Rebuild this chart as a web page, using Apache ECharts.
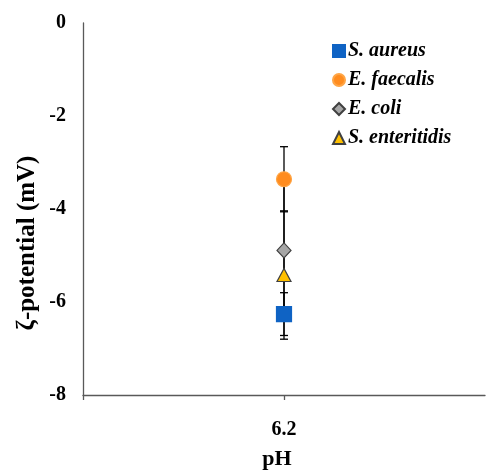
<!DOCTYPE html>
<html>
<head>
<meta charset="utf-8">
<script src="https://cdn.jsdelivr.net/npm/echarts@6/dist/echarts.min.js"></script>
<style>
html,body{margin:0;padding:0;background:#fff;}
#chart{width:488px;height:475px;}
</style>
</head>
<body>
<div id="chart"></div>
<script>
// ---- data ----
const xCategories = ['', '6.2', ''];
const phValue = '6.2';
const species = ['S. aureus', 'E. faecalis', 'E. coli', 'S. enteritidis'];
const zetaMeans = [-6.26, -3.36, -4.89, -5.42];
const zetaErrors = [0.46, 0.70, 1.50, 1.38];
const yTicks = [0, -2, -4, -6, -8];

// ---- styles ----
const symbols = ['rect', 'circle', 'diamond', 'triangle'];
const fills = ['#0F63C4', '#FF8C1F', '#A6A6A6', '#FFC000'];
const borders = ['#0F63C4', '#FFA545', '#404040', '#404040'];
const sizes = [15, 15, [14, 15], [14, 13]];
const FONT = '"Liberation Serif", "Times New Roman", serif';

const chart = echarts.init(document.getElementById('chart'));

const errorData = species.map((s, i) => [phValue, zetaMeans[i], zetaErrors[i]]);

const series = [{
  type: 'custom',
  name: 'err',
  z: 1,
  silent: true,
  data: errorData,
  encode: { x: 0, y: 1 },
  renderItem: function (params, api) {
    const x = api.value(0);
    const m = api.value(1);
    const e = api.value(2);
    const top = api.coord([x, m + e]);
    const bot = api.coord([x, m - e]);
    const hw = 4;
    const st = { stroke: '#000', lineWidth: 1.3 };
    return {
      type: 'group',
      children: [
        { type: 'line', shape: { x1: top[0], y1: top[1], x2: bot[0], y2: bot[1] }, style: st },
        { type: 'line', shape: { x1: top[0] - hw, y1: top[1], x2: top[0] + hw, y2: top[1] }, style: st },
        { type: 'line', shape: { x1: bot[0] - hw, y1: bot[1], x2: bot[0] + hw, y2: bot[1] }, style: st }
      ]
    };
  }
}];

species.forEach((s, i) => {
  series.push({
    type: 'scatter',
    name: s,
    z: 5,
    symbol: symbols[i],
    symbolSize: sizes[i],
    itemStyle: { color: fills[i], borderColor: borders[i], borderWidth: 1.2, opacity: 1 },
    data: [[phValue, zetaMeans[i]]]
  });
});

chart.setOption({
  animation: false,
  backgroundColor: '#fff',
  grid: { left: 83, right: -3, top: 23, bottom: 71, containLabel: false },
  legend: {
    orient: 'vertical',
    left: 327,
    top: 36,
    itemWidth: 12,
    itemHeight: 12,
    itemGap: 9,
    data: species.map((s, i) => ({ name: s, icon: symbols[i] })),
    textStyle: { fontFamily: FONT, fontWeight: 'bold', fontStyle: 'italic', fontSize: 20, color: '#000', padding: [0, 0, 0, -2] }
  },
  xAxis: {
    type: 'category',
    data: xCategories,
    boundaryGap: false,
    name: 'pH',
    nameLocation: 'middle',
    nameGap: 53,
    nameTextStyle: { fontFamily: FONT, fontWeight: 'bold', fontSize: 22, color: '#000', padding: [0, 14, 0, 0] },
    axisLine: { onZero: false, lineStyle: { color: '#595959', width: 1.3 } },
    axisTick: {
      show: true, inside: false, length: 5, alignWithLabel: true,
      interval: function (index) { return index < xCategories.length - 1; },
      lineStyle: { color: '#595959', width: 1.3 }
    },
    axisLabel: { fontFamily: FONT, fontWeight: 'bold', fontSize: 20, color: '#000', margin: 25, interval: 0 },
    splitLine: { show: false }
  },
  yAxis: {
    type: 'value',
    min: -8,
    max: 0,
    interval: 2,
    axisLine: { show: true, lineStyle: { color: '#595959', width: 1.3 } },
    axisTick: { show: false },
    axisLabel: {
      fontFamily: FONT, fontWeight: 'bold', fontSize: 20, color: '#000', margin: 17,
      formatter: function (v) { return yTicks.indexOf(v) >= 0 ? String(v) : ''; }
    },
    splitLine: { show: false }
  },
  graphic: [{
    type: 'text',
    x: 28,
    y: 243,
    rotation: Math.PI / 2,
    style: {
      text: 'ζ-potential (mV)',
      font: 'bold 25px ' + FONT,
      fill: '#000',
      align: 'center',
      verticalAlign: 'middle'
    }
  }],
  series: series
});
</script>
</body>
</html>
